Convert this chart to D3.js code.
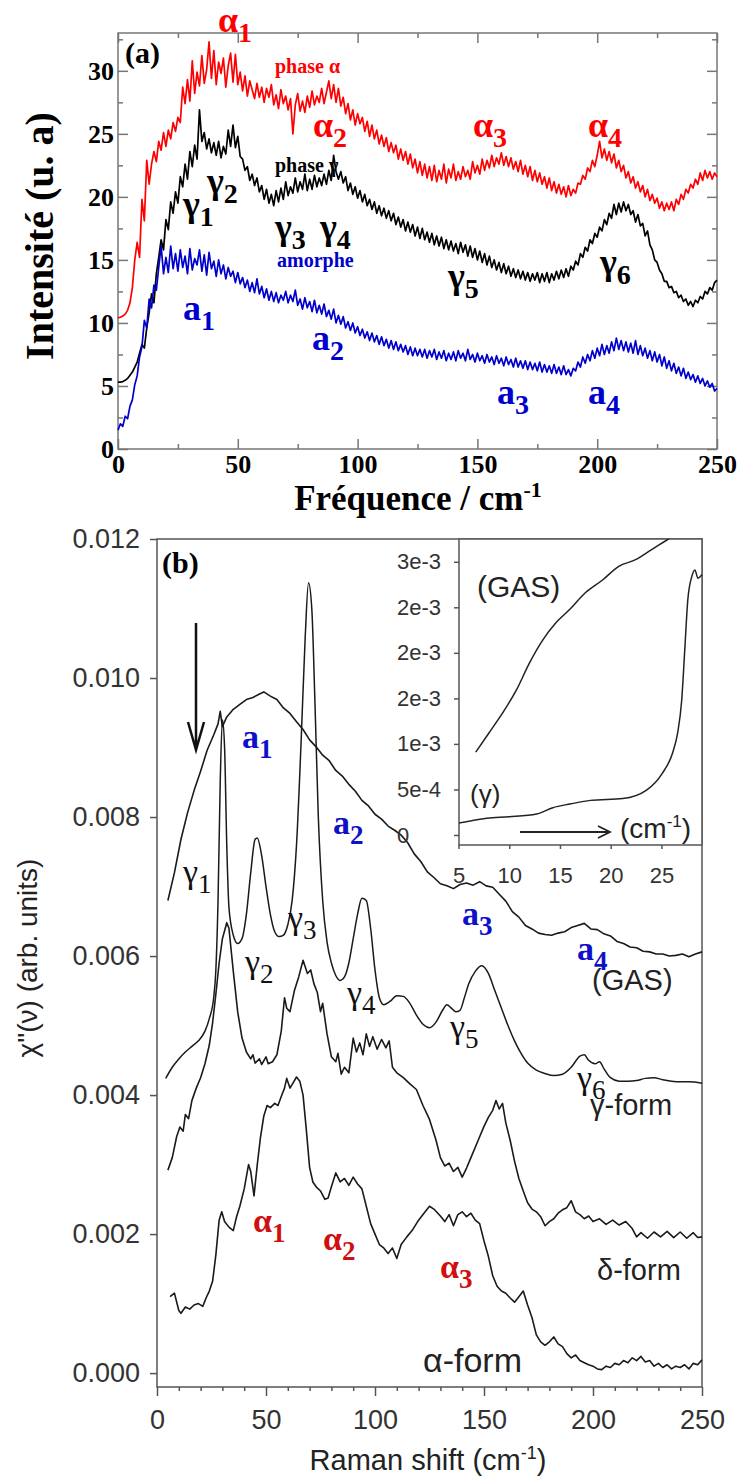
<!DOCTYPE html>
<meta charset='utf-8'>
<style>
body { margin: 0; background: #fff; }
svg { display: block; }
</style>
<body>
<div class='fig'></div>
<script src='https://cdn.jsdelivr.net/npm/d3@7/dist/d3.min.js'></script>
<script>
// ---- panel (a) : measured spectra, intensity (u. a) every 1 cm-1 from 0 to 250
var freqA = d3.range(0, 251, 1);
var phaseAlpha = [
    10.4,10.45,10.55,10.7,11.0,11.6,12.8,15.0,16.4,15.2,
    19.8,18.1,22.9,21.0,22.6,23.6,22.8,24.4,23.7,25.1,
    24.0,25.3,24.6,25.9,25.2,26.3,25.9,28.7,27.4,29.3,
    27.6,30.8,28.2,29.9,28.8,31.2,29.0,30.1,32.3,29.4,
    31.6,28.9,30.7,29.8,31.0,28.7,30.4,31.4,29.1,31.3,
    28.9,29.9,28.4,29.6,28.0,29.2,28.5,27.8,29.0,27.9,
    28.7,27.5,28.6,27.9,28.9,27.3,28.1,27.0,28.5,27.4,
    28.0,26.9,27.8,25.0,27.3,28.2,26.8,27.6,26.7,28.0,
    27.1,28.4,27.3,28.0,27.5,28.6,27.4,28.3,29.2,27.8,
    28.9,27.5,28.6,27.2,27.9,26.6,27.4,26.1,26.9,25.7,
    26.6,25.8,26.3,25.2,26.0,24.8,25.7,24.6,25.3,24.2,
    24.9,24.0,24.7,23.6,24.3,23.5,24.1,23.0,23.8,22.9,
    23.6,22.6,23.4,22.3,23.0,21.9,22.8,21.7,22.6,21.5,
    22.4,21.3,22.5,21.2,22.1,21.4,22.6,21.1,22.2,21.5,
    22.6,21.3,22.0,21.4,22.4,21.6,22.1,21.4,22.8,21.9,
    22.5,21.8,23.0,22.1,22.9,22.3,23.3,22.4,23.1,22.6,
    23.5,22.5,23.2,22.4,23.1,22.2,22.8,22.0,22.9,21.8,
    22.5,21.6,22.4,21.3,22.1,21.2,21.9,21.0,21.6,20.7,
    21.5,20.5,21.2,20.3,21.0,20.2,20.8,20.0,20.9,20.1,
    20.6,20.3,21.1,21.0,21.7,21.4,22.3,22.0,22.9,22.4,
    23.3,24.4,23.1,23.8,22.9,23.6,22.7,23.4,22.3,22.9,
    22.0,22.5,21.5,22.0,21.1,21.6,20.7,21.2,20.4,20.9,
    20.0,20.6,19.7,20.2,19.5,19.9,19.1,19.6,18.9,19.5,
    19.0,19.6,18.9,19.8,19.4,20.2,19.8,20.6,20.3,21.0,
    20.7,21.4,21.0,21.9,21.3,22.1,21.5,22.0,21.4,21.9,
    21.6
];
var phaseGamma = [
    5.3,5.3,5.35,5.45,5.6,5.85,6.1,6.5,6.9,7.6,
    8.3,8.0,9.6,10.8,12.3,11.6,13.9,15.2,16.6,15.8,
    18.2,17.4,19.6,18.7,20.4,19.5,21.6,20.8,22.6,21.4,
    23.6,22.4,24.1,23.0,26.9,24.4,25.1,23.8,24.6,23.5,
    24.3,23.3,24.4,23.1,24.0,23.4,25.3,24.0,25.7,23.9,
    24.8,23.2,23.0,22.1,22.4,21.3,21.8,20.9,21.5,20.4,
    20.9,19.8,20.6,19.5,20.2,19.3,20.5,19.6,20.7,19.8,
    21.2,20.1,20.8,20.3,21.5,20.4,21.2,20.6,21.8,20.5,
    21.4,20.6,21.7,20.8,21.5,20.9,21.8,21.0,22.1,21.3,
    23.3,22.0,21.4,22.0,21.1,21.6,20.5,21.1,20.2,20.8,
    19.9,20.5,19.6,20.2,19.3,19.8,19.0,19.6,18.7,19.3,
    18.5,19.1,18.3,18.9,18.1,18.7,17.8,18.4,17.6,18.2,
    17.3,18.0,17.2,17.8,16.9,17.6,16.7,17.5,16.6,17.2,
    16.4,17.1,16.2,16.9,16.1,16.8,15.9,16.6,15.8,16.5,
    15.7,16.3,15.5,16.4,15.6,16.2,15.3,16.1,15.2,15.9,
    15.0,15.7,14.8,15.5,14.6,15.3,14.4,15.0,14.2,14.8,
    14.0,14.7,13.9,14.5,13.7,14.3,13.6,14.2,13.5,14.1,
    13.4,14.0,13.3,13.9,13.4,14.0,13.2,13.9,13.3,14.0,
    13.2,13.9,13.4,14.1,13.5,14.2,13.6,14.3,13.7,14.5,
    14.2,14.9,14.6,15.5,15.2,16.0,15.7,16.6,16.3,17.1,
    16.8,17.6,17.3,18.2,17.8,18.7,18.3,19.4,18.6,19.5,
    18.8,19.6,18.9,19.4,18.6,18.9,18.0,18.6,17.7,17.9,
    16.9,17.3,16.2,15.8,15.0,14.8,14.2,13.9,13.3,13.3,
    12.8,12.9,12.4,12.5,12.0,12.2,11.7,11.9,11.4,11.7,
    11.3,11.8,11.6,12.1,11.9,12.5,12.3,12.8,12.6,13.2,
    13.4
];
var amorphe = [
    1.5,2.0,1.8,2.6,2.4,3.4,3.9,5.1,5.8,7.3,
    8.1,10.2,9.6,11.9,11.2,13.0,12.6,14.4,16.1,13.9,
    15.2,14.0,16.1,14.3,15.5,14.1,15.8,14.4,15.3,13.9,
    15.9,14.2,15.1,14.6,15.8,14.1,15.4,13.8,15.6,14.3,
    14.9,13.7,15.0,13.9,14.6,13.5,14.4,13.7,14.1,13.2,
    14.0,13.1,13.6,12.8,13.4,12.5,13.2,12.4,13.5,12.3,
    12.9,12.0,12.7,11.8,12.5,11.7,12.4,11.6,12.2,11.8,
    12.5,11.6,12.2,11.7,12.6,11.4,11.9,11.1,12.0,11.2,
    11.7,10.9,11.8,10.8,11.4,10.7,11.5,10.5,11.0,10.3,
    11.1,10.0,10.6,9.9,10.5,9.6,10.1,9.4,10.0,9.2,
    9.7,9.0,9.5,8.8,9.3,8.6,9.2,8.5,9.0,8.3,
    8.9,8.2,8.7,8.0,8.6,7.9,8.5,7.8,8.3,7.7,
    8.2,7.5,8.1,7.4,8.0,7.4,7.9,7.3,7.9,7.2,
    7.8,7.3,7.9,7.1,7.7,7.2,7.8,7.0,7.6,7.1,
    7.7,7.0,7.8,7.2,7.6,7.0,7.9,7.1,7.5,6.9,
    7.6,7.0,7.4,6.8,7.5,6.9,7.3,6.7,7.4,6.8,
    7.2,6.6,7.3,6.7,7.1,6.5,7.2,6.5,7.0,6.4,
    7.0,6.3,6.9,6.3,6.8,6.2,6.9,6.1,6.7,6.1,
    6.6,6.0,6.7,6.0,6.5,5.9,6.6,5.9,6.3,5.8,
    6.4,6.2,6.9,6.5,7.3,6.8,7.5,7.0,7.8,7.2,
    8.0,7.4,8.3,7.5,8.2,7.6,8.5,7.8,8.8,7.9,
    8.6,7.8,8.5,7.7,8.4,7.6,8.6,7.5,8.2,7.4,
    8.0,7.2,7.8,7.0,7.7,6.9,7.5,6.6,7.3,6.4,
    7.0,6.2,6.8,6.0,6.5,5.8,6.4,5.6,6.1,5.5,
    5.9,5.3,5.8,5.2,5.6,5.0,5.4,4.9,5.2,4.6,
    4.8
];
var xMajorA = [0, 50, 100, 150, 200, 250];
var xMinorA = [25, 75, 125, 175, 225];
var yMajorA = [0, 5, 10, 15, 20, 25, 30];
var yMinorA = [2.5, 7.5, 12.5, 17.5, 22.5, 27.5, 32.5];

// ---- panel (b) : chi''(nu) in units of 1e-3, [shift cm-1, value]
var gasB = [[5,6.80],[8,7.20],[11,7.68],[14,8.06],[17,8.38],[20,8.66],[23,8.96],[26,9.18],[28,9.34],[29,9.52],[30,9.30],[32,9.44],[35,9.55],[38,9.62],[41,9.69],[44,9.72],[47,9.77],[49,9.80],[52,9.74],[55,9.69],[58,9.57],[61,9.49],[64,9.37],[67,9.26],[70,9.11],[73,9.01],[76,8.89],[79,8.81],[82,8.67],[85,8.59],[88,8.47],[91,8.37],[94,8.24],[97,8.16],[100,8.04],[103,7.97],[106,7.87],[109,7.81],[112,7.74],[115,7.63],[118,7.47],[121,7.36],[124,7.21],[127,7.13],[130,7.04],[133,7.01],[136,6.97],[139,7.03],[142,7.05],[145,7.02],[148,7.07],[151,7.01],[154,6.99],[157,6.89],[160,6.79],[163,6.64],[166,6.56],[169,6.44],[172,6.39],[175,6.33],[178,6.31],[181,6.30],[184,6.33],[187,6.35],[190,6.41],[193,6.44],[196,6.47],[199,6.39],[202,6.38],[205,6.32],[208,6.29],[211,6.21],[214,6.18],[217,6.13],[220,6.12],[223,6.07],[226,6.06],[229,6.03],[232,6.03],[235,6.00],[238,6.01],[241,6.03],[244,5.99],[247,6.03],[250,6.06]];
var gammaB = [[4,4.24],[7,4.40],[10,4.52],[13,4.62],[16,4.70],[19,4.78],[22,4.92],[24,5.10],[26,5.40],[27,5.80],[28,6.80],[29,8.50],[30,9.40],[31,9.00],[32,7.60],[33,6.70],[35,6.30],[37,6.18],[39,6.25],[41,6.60],[43,7.20],[45,7.68],[46,7.70],[48,7.45],[50,7.00],[52,6.60],[54,6.35],[56,6.28],[58,6.30],[60,6.45],[62,6.80],[64,7.60],[66,9.00],[68,10.60],[69.5,11.37],[71,11.00],[72.5,9.60],[74,8.00],[76,6.80],[78,6.20],[80,5.90],[82,5.72],[84,5.65],[86,5.70],[88,5.90],[90,6.25],[92,6.60],[94,6.83],[96,6.80],[98,6.40],[100,5.80],[102,5.40],[104,5.30],[107,5.35],[110,5.43],[113,5.42],[116,5.32],[119,5.15],[122,5.02],[125,4.97],[128,5.05],[131,5.22],[133,5.30],[135,5.25],[137,5.20],[139,5.22],[141,5.40],[143,5.60],[146,5.78],[149,5.86],[152,5.75],[155,5.50],[158,5.25],[161,5.00],[164,4.78],[167,4.60],[170,4.46],[174,4.36],[178,4.31],[182,4.28],[186,4.30],[190,4.40],[194,4.56],[196,4.58],[198,4.50],[201,4.45],[203,4.48],[205,4.38],[208,4.25],[212,4.20],[216,4.20],[220,4.21],[224,4.24],[228,4.25],[232,4.22],[236,4.20],[240,4.19],[244,4.19],[250,4.17]];
var deltaB = [[5,2.92],[7,3.10],[9,3.40],[10.5,3.54],[12,3.48],[13,3.72],[14.5,3.66],[16,3.92],[18,4.10],[20,4.25],[22,4.45],[24,4.72],[25.5,5.04],[27,5.45],[28.5,5.90],[30,6.25],[32,6.48],[33,6.40],[35,5.78],[37,5.20],[39,4.82],[41,4.62],[43,4.52],[44,4.58],[45,4.46],[47,4.52],[48,4.44],[50,4.55],[51,4.45],[53,4.48],[55,4.58],[57,4.92],[58.5,5.40],[59.5,5.25],[61,5.20],[63,5.50],[65,5.70],[67,5.94],[69,5.75],[70.5,5.80],[72,5.60],[73.5,5.48],[75,5.20],[76,5.32],[78,4.88],[80,4.55],[82,4.48],[83,4.60],[84.5,4.30],[86,4.40],[88,4.32],[90,4.82],[91.5,4.62],[93,4.75],[94.5,4.58],[96,4.88],[97.5,4.70],[99,4.84],[101,4.66],[103,4.80],[105,4.68],[106.5,4.78],[108,4.40],[110,4.32],[113,4.25],[116,4.16],[119,4.08],[122,3.85],[125,3.65],[128,3.35],[130,3.10],[132,2.98],[134,3.02],[136,2.90],[138,2.96],[140,2.82],[142,2.95],[144,3.10],[146,3.25],[148,3.40],[150,3.55],[152,3.68],[154,3.78],[155.5,3.92],[157,3.80],[158.5,3.88],[160,3.60],[162,3.35],[164,3.05],[166,2.80],[168,2.62],[170,2.45],[172,2.36],[174,2.32],[176,2.25],[178,2.12],[180,2.18],[182,2.22],[184,2.30],[186,2.35],[188,2.38],[190,2.48],[192,2.32],[194,2.28],[196,2.22],[198,2.26],[200,2.18],[203,2.22],[206,2.14],[209,2.20],[212,2.13],[215,2.18],[218,2.08],[220,1.96],[222,2.02],[225,1.94],[228,2.03],[231,1.96],[234,2.04],[237,1.95],[240,2.03],[243,1.94],[246,2.02],[248,1.95],[250,1.96]];
var alphaB = [[6,1.10],[8,1.15],[10,0.90],[11,0.86],[13,0.95],[15,0.92],[17,0.98],[19,1.00],[21,0.96],[22.5,1.08],[24,1.18],[25.5,1.32],[27,1.70],[28.5,2.20],[29.7,2.32],[31,2.18],[33,2.10],[35,2.05],[36.5,2.25],[38,2.40],[40,2.65],[42,3.00],[43,2.90],[44.5,2.55],[46,3.00],[47.5,3.40],[49,3.70],[50.5,3.85],[52,3.82],[54,3.88],[55.5,3.85],[57,3.98],[58.5,4.10],[59.5,4.24],[61,4.10],[62.5,4.18],[64,4.26],[65.5,4.20],[67,4.00],[68.5,3.50],[70,2.96],[71.5,2.75],[73,2.68],[75,2.62],[77,2.50],[78.5,2.52],[80,2.68],[82,2.88],[84,2.75],[86,2.80],[88,2.70],[90,2.82],[92,2.72],[94,2.65],[96,2.40],[98,2.15],[100,2.00],[102,1.85],[104,1.80],[106,1.72],[108,1.80],[110,1.65],[112,1.85],[114.6,1.96],[117,2.05],[120,2.20],[123,2.32],[125,2.40],[127,2.36],[130,2.26],[132,2.18],[134,2.28],[136,2.12],[138,2.28],[140,2.32],[142,2.25],[144,2.30],[146,2.20],[148,2.15],[150,1.90],[152,1.68],[154,1.40],[156,1.25],[158,1.18],[160,1.15],[162,1.08],[164,1.02],[166,1.10],[168,1.18],[170,0.98],[172,0.80],[174,0.55],[176,0.45],[178,0.40],[180,0.45],[182,0.52],[184,0.42],[186,0.38],[188,0.28],[190,0.22],[192,0.26],[194,0.18],[196,0.15],[198,0.12],[200,0.10],[202,0.06],[204,0.05],[206,0.10],[208,0.08],[210,0.14],[212,0.12],[214,0.18],[216,0.15],[218,0.22],[220,0.18],[222,0.24],[224,0.16],[226,0.18],[228,0.10],[230,0.14],[232,0.08],[234,0.12],[236,0.06],[238,0.10],[240,0.08],[242,0.12],[244,0.06],[246,0.14],[248,0.12],[250,0.19]];
var xMajorB = [0, 50, 100, 150, 200, 250];
var xMinorB = [10, 20, 30, 40, 60, 70, 80, 90, 110, 120, 130, 140, 160, 170, 180, 190, 210, 220, 230, 240];
var yTicksB = [0, 2, 4, 6, 8, 10, 12];

// ---- inset : low frequency part, values in units of 1e-4
var gasInset = [[6.7,9.1],[8.0,11.2],[9.35,13.4],[10.7,15.9],[12.0,18.9],[13.3,21.4],[14.6,23.3],[15.9,24.7],[17.5,26.6],[19.2,28.0],[20.8,29.5],[22.4,30.2],[24.0,31.3],[25.7,32.5],[26.5,33.0]];
var gammaInset = [[5.0,1.3],[7.8,1.85],[10,2.0],[12.7,2.3],[14.3,3.0],[16,3.4],[18,3.8],[21.2,4.0],[23.5,4.9],[25.1,6.8],[26.1,9.0],[26.6,11.2],[27.0,14.8],[27.3,20.3],[27.6,25.8],[28.0,28.4],[28.3,29.1],[28.6,28.2],[29.0,28.6]];
var insetXTicks = [5, 10, 15, 20, 25];
var insetYTicks = [0, 5, 10, 15, 20, 25, 30];
var insetYLabels = ['0', '5e-4', '1e-3', '2e-3', '2e-3', '2e-3', '3e-3'];

var SERIF = "'Liberation Serif', 'Times New Roman', serif";
var SANS = "'Liberation Sans', Arial, sans-serif";

var svg = d3.select('.fig').append('svg')
    .attr('width', 740)
    .attr('height', 1476);
svg.append('rect').attr('width', 740).attr('height', 1476).attr('fill', '#fff');

// label with a subscript, e.g. alpha_1
function subLabel(g, x, y, base, sub, color, size, weight) {
    var t = g.append('text')
        .attr('x', x).attr('y', y)
        .attr('fill', color)
        .style('font-family', SERIF)
        .style('font-size', size + 'px')
        .style('font-weight', weight);
    t.append('tspan').text(base);
    t.append('tspan').attr('dy', size * 0.28).style('font-size', Math.round(size * 0.78) + 'px').text(sub);
}

function plainText(g, x, y, str, opts) {
    return g.append('text')
        .attr('x', x).attr('y', y)
        .attr('fill', opts.color || '#000')
        .attr('text-anchor', opts.anchor || 'start')
        .style('font-family', opts.font || SANS)
        .style('font-size', opts.size + 'px')
        .style('font-weight', opts.weight || 'normal')
        .text(str);
}

// ================= panel (a) =================
var xA = d3.scaleLinear().domain([0, 250]).range([118, 717]);
var yA = d3.scaleLinear().domain([0, 33]).range([449, 33]);
var gA = svg.append('g');

function tickAxis(g, axis, tr, col) {
    var a = g.append('g').attr('transform', tr).call(axis);
    a.select('.domain').remove();
    a.selectAll('.tick line').attr('stroke', col).attr('stroke-width', 1.5);
    return a;
}

var axA = [
    [d3.axisBottom(xA).tickValues(xMajorA).tickSize(-10).tickPadding(6), 'translate(0,449)'],
    [d3.axisBottom(xA).tickValues(xMinorA).tickSize(-5).tickFormat(''), 'translate(0,449)'],
    [d3.axisTop(xA).tickValues(xMajorA).tickSize(-10).tickFormat(''), 'translate(0,33)'],
    [d3.axisTop(xA).tickValues(xMinorA).tickSize(-5).tickFormat(''), 'translate(0,33)'],
    [d3.axisLeft(yA).tickValues(yMajorA).tickSize(-10).tickPadding(4), 'translate(118,0)'],
    [d3.axisLeft(yA).tickValues(yMinorA).tickSize(-5).tickFormat(''), 'translate(118,0)'],
    [d3.axisRight(yA).tickValues(yMajorA).tickSize(-10).tickFormat(''), 'translate(717,0)'],
    [d3.axisRight(yA).tickValues(yMinorA).tickSize(-5).tickFormat(''), 'translate(717,0)']
];
axA.forEach(function(p) {
    var a = tickAxis(gA, p[0], p[1], '#777');
    a.selectAll('.tick text')
        .attr('fill', '#000')
        .style('font-family', SERIF)
        .style('font-size', '26px')
        .style('font-weight', 'bold');
});
gA.append('rect')
    .attr('x', xA(0)).attr('y', yA(33))
    .attr('width', xA(250) - xA(0)).attr('height', yA(0) - yA(33))
    .attr('fill', 'none').attr('stroke', '#777').attr('stroke-width', 1.5);

var lineA = d3.line().x(function(d, i) { return xA(freqA[i]); }).y(function(d) { return yA(d); });
[[phaseAlpha, '#f00'], [phaseGamma, '#000'], [amorphe, '#0000cc']].forEach(function(s) {
    gA.append('path').attr('d', lineA(s[0]))
        .attr('fill', 'none').attr('stroke', s[1]).attr('stroke-width', 1.7).attr('stroke-linejoin', 'round');
});

plainText(gA, 125, 63, '(a)', {font: SERIF, size: 30, weight: 'bold'});
plainText(gA, 275, 73, 'phase \u03b1', {font: SERIF, size: 20, weight: 'bold', color: '#f00'});
plainText(gA, 275, 172, 'phase \u03b3', {font: SERIF, size: 20, weight: 'bold'});
plainText(gA, 277, 267, 'amorphe', {font: SERIF, size: 20, weight: 'bold', color: '#0000cc'});

var labelsA = [
    [218, 32, '\u03b1', '1', '#f00'], [313, 137, '\u03b1', '2', '#f00'],
    [473, 137, '\u03b1', '3', '#f00'], [588, 137, '\u03b1', '4', '#f00'],
    [183, 216, '\u03b3', '1', '#000'], [207, 193, '\u03b3', '2', '#000'],
    [275, 239, '\u03b3', '3', '#000'], [320, 239, '\u03b3', '4', '#000'],
    [448, 288, '\u03b3', '5', '#000'], [600, 274, '\u03b3', '6', '#000'],
    [183, 320, 'a', '1', '#0000cc'], [312, 350, 'a', '2', '#0000cc'],
    [497, 404, 'a', '3', '#0000cc'], [588, 404, 'a', '4', '#0000cc']
];
labelsA.forEach(function(l) { subLabel(gA, l[0], l[1], l[2], l[3], l[4], 36, 'bold'); });

gA.append('text')
    .attr('transform', 'translate(53,236) rotate(-90)')
    .attr('text-anchor', 'middle')
    .style('font-family', SERIF).style('font-size', '40px').style('font-weight', 'bold')
    .text('Intensit\u00e9 (u. a)');
var tA = gA.append('text')
    .attr('x', 418).attr('y', 510).attr('text-anchor', 'middle')
    .style('font-family', SERIF).style('font-size', '35px').style('font-weight', 'bold');
tA.append('tspan').text('Fr\u00e9quence / cm');
tA.append('tspan').attr('dy', -13).style('font-size', '22px').text('-1');

// ================= panel (b) =================
var xB = d3.scaleLinear().domain([0, 250]).range([157, 702]);
var yB = d3.scaleLinear().domain([-0.2, 12]).range([1387, 539]);
var gB = svg.append('g');

var axL = tickAxis(gB, d3.axisLeft(yB).tickValues(yTicksB).tickSize(7).tickPadding(10)
    .tickFormat(function(d) { return (d / 1000).toFixed(3); }), 'translate(157,0)', '#555');
var axBt = tickAxis(gB, d3.axisBottom(xB).tickValues(xMajorB).tickSize(9).tickPadding(14), 'translate(0,1387)', '#555');
tickAxis(gB, d3.axisBottom(xB).tickValues(xMinorB).tickSize(4).tickFormat(''), 'translate(0,1387)', '#555');
[axL, axBt].forEach(function(a) {
    a.selectAll('.tick text').attr('fill', '#333')
        .style('font-family', SANS).style('font-size', '27px');
});
gB.append('rect')
    .attr('x', xB(0)).attr('y', yB(12))
    .attr('width', xB(250) - xB(0)).attr('height', yB(-0.2) - yB(12))
    .attr('fill', 'none').attr('stroke', '#555').attr('stroke-width', 1.5);

var lineB = d3.line().x(function(d) { return xB(d[0]); }).y(function(d) { return yB(d[1]); });
var smoothB = d3.line().x(function(d) { return xB(d[0]); }).y(function(d) { return yB(d[1]); }).curve(d3.curveMonotoneX);
[[gasB, lineB, 1.6], [gammaB, smoothB, 1.5], [deltaB, lineB, 1.6], [alphaB, lineB, 1.6]].forEach(function(s) {
    gB.append('path').attr('d', s[1](s[0]))
        .attr('fill', 'none').attr('stroke', '#1a1a1a').attr('stroke-width', s[2]).attr('stroke-linejoin', 'round');
});

// arrow pointing at the boson peak
gB.append('path').attr('d', 'M196,623 L196,750 M188,722 L196,750 L204,722')
    .attr('fill', 'none').attr('stroke', '#111').attr('stroke-width', 2.5);

plainText(gB, 162, 573, '(b)', {font: SERIF, size: 30, weight: 'bold'});
plainText(gB, 592, 990, '(GAS)', {size: 29, color: '#222'});
plainText(gB, 590, 1115, '\u03b3-form', {size: 29, color: '#222'});
plainText(gB, 597, 1280, '\u03b4-form', {size: 29, color: '#222'});
plainText(gB, 423, 1372, '\u03b1-form', {size: 34, color: '#222'});

var labelsB = [
    [242, 748, 'a', '1', '#1010c8', 'bold'], [333, 834, 'a', '2', '#1010c8', 'bold'],
    [462, 925, 'a', '3', '#1010c8', 'bold'], [577, 960, 'a', '4', '#1010c8', 'bold'],
    [183, 883, '\u03b3', '1', '#111', 'normal'], [245, 973, '\u03b3', '2', '#111', 'normal'],
    [288, 929, '\u03b3', '3', '#111', 'normal'], [347, 1004, '\u03b3', '4', '#111', 'normal'],
    [450, 1038, '\u03b3', '5', '#111', 'normal'], [577, 1089, '\u03b3', '6', '#111', 'normal'],
    [253, 1232, '\u03b1', '1', '#d01010', 'bold'], [323, 1250, '\u03b1', '2', '#d01010', 'bold'],
    [440, 1278, '\u03b1', '3', '#d01010', 'bold']
];
labelsB.forEach(function(l) { subLabel(gB, l[0], l[1], l[2], l[3], l[4], 34, l[5]); });

gB.append('text')
    .attr('transform', 'translate(37,958) rotate(-90)')
    .attr('text-anchor', 'middle').attr('fill', '#222')
    .style('font-family', SANS).style('font-size', '28px')
    .text('\u03c7"(\u03bd) (arb. units)');
var tB = gB.append('text')
    .attr('x', 428).attr('y', 1470).attr('text-anchor', 'middle').attr('fill', '#222')
    .style('font-family', SANS).style('font-size', '29px');
tB.append('tspan').text('Raman shift (cm');
tB.append('tspan').attr('dy', -11).style('font-size', '18px').text('-1');
tB.append('tspan').attr('dy', 11).text(')');

// ================= inset =================
var xI = d3.scaleLinear().domain([5, 29]).range([458.5, 702]);
var yI = d3.scaleLinear().domain([-1.1, 32.5]).range([845, 539]);
var gI = svg.append('g');
gI.append('rect')
    .attr('x', 459).attr('y', 539).attr('width', 243).attr('height', 306)
    .attr('fill', '#fff').attr('stroke', '#555').attr('stroke-width', 1.5);
svg.append('clipPath').attr('id', 'insetClip')
    .append('rect').attr('x', 459).attr('y', 539).attr('width', 243).attr('height', 306);

var axIL = tickAxis(gI, d3.axisLeft(yI).tickValues(insetYTicks).tickSize(5).tickPadding(12)
    .tickFormat(function(d, i) { return insetYLabels[i]; }), 'translate(459,0)', '#555');
axIL.selectAll('.tick text').attr('text-anchor', 'start').attr('x', -62);
var axIB = tickAxis(gI, d3.axisBottom(xI).tickValues(insetXTicks).tickSize(4).tickPadding(18), 'translate(0,845)', '#555');
[axIL, axIB].forEach(function(a) {
    a.selectAll('.tick text').attr('fill', '#333')
        .style('font-family', SANS).style('font-size', '22px');
});

var lineI = d3.line().x(function(d) { return xI(d[0]); }).y(function(d) { return yI(d[1]); }).curve(d3.curveMonotoneX);
[gasInset, gammaInset].forEach(function(s) {
    gI.append('path').attr('d', lineI(s)).attr('clip-path', 'url(#insetClip)')
        .attr('fill', 'none').attr('stroke', '#222').attr('stroke-width', 1.5);
});

plainText(gI, 477, 597, '(GAS)', {size: 30, color: '#222'});
plainText(gI, 470, 803, '(\u03b3)', {size: 26, color: '#222'});
gI.append('path').attr('d', 'M520,832 L610,832 M598,826 L610,832 L598,838')
    .attr('fill', 'none').attr('stroke', '#222').attr('stroke-width', 1.8);
var tI = gI.append('text').attr('x', 620).attr('y', 838).attr('fill', '#222')
    .style('font-family', SANS).style('font-size', '28px');
tI.append('tspan').text('(cm');
tI.append('tspan').attr('dy', -11).style('font-size', '17px').text('-1');
tI.append('tspan').attr('dy', 11).text(')');
</script>
